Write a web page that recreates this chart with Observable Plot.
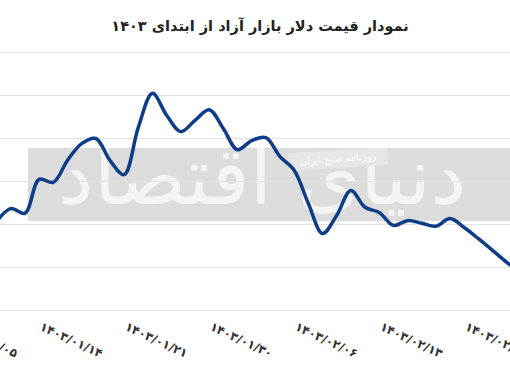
<!DOCTYPE html>
<html>
<head>
<meta charset="utf-8">
<script src="https://cdn.jsdelivr.net/npm/d3@7"></script>
<script src="https://cdn.jsdelivr.net/npm/@observablehq/plot@0.6"></script>
<style>
  body { margin: 0; background: #fff; width: 510px; height: 365px; overflow: hidden; position: relative; font-family: "DejaVu Sans", sans-serif; }
  #title { height: 51px; line-height: 52px; text-align: center; direction: rtl; font-weight: bold; font-size: 14.5px; color: #222; padding-left: 10px; box-sizing: border-box; }
  #wm { position: absolute; left: 28px; top: 148px; width: 482px; height: 73px; background: #dcdcdc; z-index: 0; overflow: hidden; }
  #wm .big { position: absolute; left: 30px; top: -18px; font-size: 80px; color: #fff; opacity: 0.7; direction: rtl; white-space: nowrap; font-family: "DejaVu Sans", sans-serif; }
  #wm .tag { position: absolute; left: 260px; top: 2px; width: 100px; height: 18px; background: #e6e6e6; color: #fff; font-size: 10px; line-height: 18px; text-align: center; direction: rtl; transform: rotate(-4deg); }
  #chart { position: relative; z-index: 1; }
  #chart svg { background: transparent !important; }
</style>
</head>
<body>
<div id="title">نمودار قیمت دلار بازار آزاد از ابتدای ۱۴۰۳</div>
<div id="wm"><div class="big">دنیای اقتصاد</div><div class="tag">روزنامه صبح ایران</div></div>
<div id="chart"></div>
<script>
// trading-day index of each point (0 = 1403/01/05)
const dayIndex = [3,4,5,6,7,8,9,10,11,12,13,14,15,16,17,18,19,20,21,22,23,24,25,26,27,28,29,30,31,32,33,34,35,36,37,38,39,40];
// free-market dollar price (toman)
const price = [62070,62370,62260,63050,62980,63490,63880,64000,63490,63160,64260,65050,64540,64160,64420,64670,64230,63740,63950,64020,63580,63260,62490,61790,62210,62790,62400,62280,61980,62090,62030,61960,62140,61930,61670,61400,61120,60880];
// tick labels and their indices
const tickIndex = [0,6,12,18,24,30,36];
const tickLabels = ["۱۴۰۳/۰۱/۰۵","۱۴۰۳/۰۱/۱۴","۱۴۰۳/۰۱/۲۱","۱۴۰۳/۰۱/۳۰","۱۴۰۳/۰۲/۰۶","۱۴۰۳/۰۲/۱۳","۱۴۰۳/۰۲/۲۰"];
const gridValues = [60000,61000,62000,63000,64000,65000,66000];

const data = dayIndex.map((d, i) => ({d, v: price[i]}));
const ticks = tickIndex.map((d, i) => ({d, label: tickLabels[i]}));

const chart = Plot.plot({
  width: 510,
  height: 314,
  marginLeft: 0,
  marginRight: 0,
  marginTop: 1,
  marginBottom: 55,
  style: {background: "transparent", fontFamily: "DejaVu Sans, sans-serif"},
  x: {domain: [3.275, 39.266], axis: null},
  y: {domain: [60000, 66000], axis: null},
  marks: [
    Plot.ruleY(gridValues, {stroke: "#e2e2e2", strokeWidth: 1.2}),
    Plot.line(data, {x: "d", y: "v", stroke: "#0e3c87", strokeWidth: 3.5, curve: "catmull-rom", clip: true}),
    Plot.text(ticks, {x: "d", text: "label", frameAnchor: "bottom", dy: 19, rotate: 25, textAnchor: "start", fontSize: 12, fontWeight: "bold", fill: "#333"})
  ]
});
document.getElementById("chart").appendChild(chart);
</script>
</body>
</html>
